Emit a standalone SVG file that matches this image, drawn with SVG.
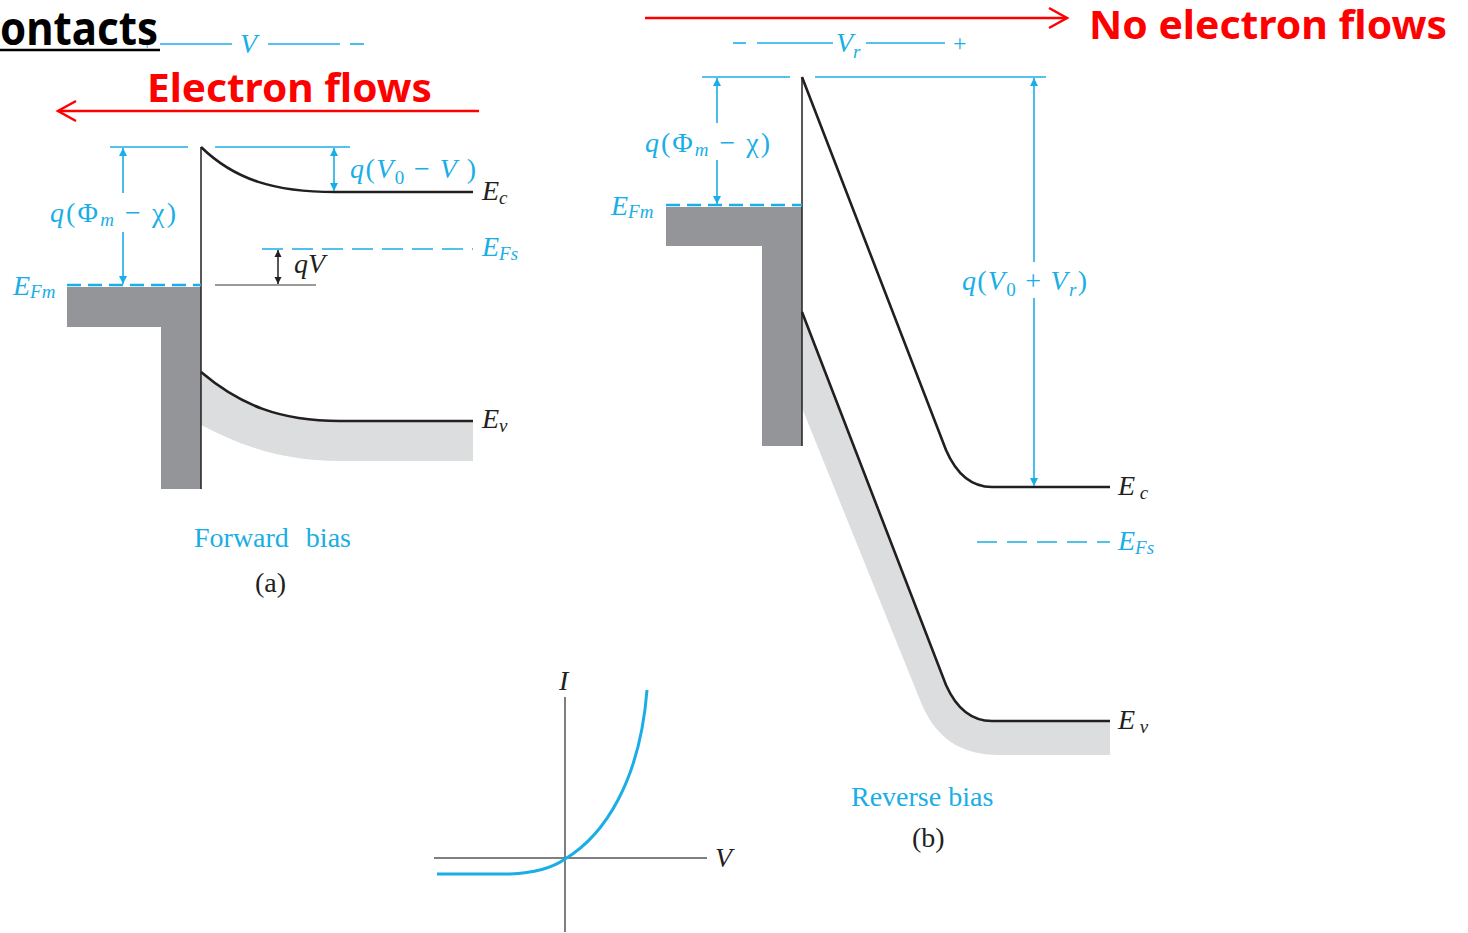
<svg xmlns="http://www.w3.org/2000/svg" width="1468" height="933" viewBox="0 0 1468 933">
<defs>
<marker id="ah" viewBox="0 0 10 10" refX="10" refY="5" markerWidth="8" markerHeight="10" markerUnits="userSpaceOnUse" orient="auto-start-reverse"><path d="M0,0 L10,5 L0,10 z" fill="#1aaee6"/></marker>
<marker id="ahk" viewBox="0 0 10 10" refX="10" refY="5" markerWidth="7" markerHeight="8" markerUnits="userSpaceOnUse" orient="auto-start-reverse"><path d="M0,0 L10,5 L0,10 z" fill="#231f20"/></marker>
<style>
.b{stroke:#1aaee6;stroke-width:1.6;fill:none}
.bd{stroke:#1aaee6;stroke-width:2.6;fill:none;stroke-dasharray:14 7}
.bds{stroke:#1aaee6;stroke-width:1.6;fill:none;stroke-dasharray:21 9}
.k{stroke:#231f20;stroke-width:2.6;fill:none}
.kt{stroke:#231f20;stroke-width:1.5;fill:none}
.metal{fill:#939598}
.band{fill:#dcddde}
.mt{font-family:"Liberation Serif",serif;font-style:italic;font-size:28px}
.up{font-style:normal}
.mb{fill:#1aaee6}
.mk{fill:#231f20}
.sub{font-size:19px}
.cap{font-family:"Liberation Serif",serif;font-size:28px}
.red{font-family:"Noto Sans",sans-serif;font-weight:bold;font-size:40px;fill:#ff0000}
</style>
</defs>

<g id="title">
<text x="142" y="50" class="mb" font-family="'Liberation Serif',serif" font-size="18">+</text>
<text x="0" y="45" font-family="'Noto Sans',sans-serif" font-weight="bold" font-size="46" fill="#000" textLength="158" lengthAdjust="spacingAndGlyphs">ontacts</text>
<line x1="0" y1="50" x2="160" y2="50" stroke="#000" stroke-width="2.5"/>
</g>

<g id="forward-voltage">
<line x1="160" y1="44" x2="232" y2="44" class="b"/>
<text x="240" y="53" class="mt mb">V</text>
<line x1="268" y1="44" x2="340" y2="44" class="b"/>
<line x1="350" y1="44" x2="364" y2="44" class="b"/>
</g>

<g id="electron-flows">
<text x="147" y="102" class="red" textLength="285" lengthAdjust="spacingAndGlyphs">Electron flows</text>
<line x1="58" y1="111" x2="479" y2="111" stroke="#ff0000" stroke-width="2.5"/>
<path d="M76,101 L58,111 L76,121" fill="none" stroke="#ff0000" stroke-width="2.5"/>
</g>

<g id="forward-diagram">
<path class="band" d="M201,372 C240,405 280,421 340,421 L473,421 L473,461 L340,461 C280,461 240,445 201,425 Z"/>
<path class="metal" d="M67,287 L201,287 L201,489 L161,489 L161,327 L67,327 Z"/>
<line x1="201" y1="147" x2="201" y2="489" class="kt"/>
<path class="k" d="M201,147 C235,180 275,192 335,192 L473,192"/>
<path class="k" d="M201,372 C240,405 280,421 340,421 L473,421"/>
<line x1="110" y1="147" x2="188" y2="147" class="b"/>
<line x1="215" y1="147" x2="350" y2="147" class="b"/>
<line x1="67" y1="285" x2="201" y2="285" class="bd"/>
<line x1="262" y1="249" x2="473" y2="249" class="bds"/>
<line x1="215" y1="285" x2="316" y2="285" stroke="#777" stroke-width="1.3"/>
<line x1="123" y1="193" x2="123" y2="148" class="b" marker-end="url(#ah)"/>
<line x1="123" y1="232" x2="123" y2="284" class="b" marker-end="url(#ah)"/>
<line x1="334" y1="148" x2="334" y2="191" class="b" marker-start="url(#ah)" marker-end="url(#ah)"/>
<line x1="278" y1="250" x2="278" y2="284" class="kt" marker-start="url(#ahk)" marker-end="url(#ahk)"/>
<text x="50" y="222" class="mt mb" textLength="126" lengthAdjust="spacing">q<tspan class="up">(Φ</tspan><tspan class="sub" dy="4">m</tspan><tspan class="up" dy="-4"> − χ)</tspan></text>
<text x="350" y="178" class="mt mb" textLength="126" lengthAdjust="spacing">q<tspan class="up">(</tspan>V<tspan class="sub up" dy="6">0</tspan><tspan class="up" dy="-6"> − </tspan>V<tspan class="up"> )</tspan></text>
<text x="294" y="273" class="mt mk">qV</text>
<text x="13" y="295" class="mt mb">E<tspan class="sub" dy="3">Fm</tspan></text>
<text x="482" y="200" class="mt mk">E<tspan class="sub" dy="4">c</tspan></text>
<text x="482" y="256" class="mt mb">E<tspan class="sub" dy="4">Fs</tspan></text>
<text x="482" y="428" class="mt mk">E<tspan class="sub" dy="4">v</tspan></text>
<text x="194" y="547" class="cap mb" word-spacing="10">Forward bias</text>
<text x="255" y="592" class="cap mk">(a)</text>
</g>

<g id="no-electron-flows">
<line x1="645" y1="18" x2="1067" y2="18" stroke="#ff0000" stroke-width="2.5"/>
<path d="M1049,8 L1067,18 L1049,28" fill="none" stroke="#ff0000" stroke-width="2.5"/>
<text x="1089" y="39" class="red" textLength="358" lengthAdjust="spacingAndGlyphs">No electron flows</text>
</g>

<g id="reverse-voltage">
<line x1="733" y1="43" x2="746" y2="43" class="b"/>
<line x1="757" y1="43" x2="833" y2="43" class="b"/>
<text x="836" y="52" class="mt mb">V<tspan class="sub" dy="6">r</tspan></text>
<line x1="866" y1="43" x2="945" y2="43" class="b"/>
<text x="953" y="51" class="mb" font-family="'Liberation Serif',serif" font-size="24">+</text>
</g>

<g id="reverse-diagram">
<path class="band" d="M802,312 L946,685 Q962,721 992,721 L1110,721 L1110,755 L1000,755 C960,755 935,738 920,700 L802,408 Z"/>
<path class="metal" d="M666,207 L802,207 L802,446 L762,446 L762,246 L666,246 Z"/>
<line x1="802" y1="77" x2="802" y2="446" class="kt"/>
<path class="k" d="M802,77 L946,450 Q962,487 992,487 L1110,487"/>
<path class="k" d="M802,312 L946,685 Q962,721 992,721 L1110,721"/>
<line x1="702" y1="77" x2="790" y2="77" class="b"/>
<line x1="815" y1="77" x2="1046" y2="77" class="b"/>
<line x1="666" y1="205" x2="802" y2="205" class="bd"/>
<line x1="977" y1="542" x2="1110" y2="542" class="bds" style="stroke-dasharray:20 10"/>
<line x1="717" y1="123" x2="717" y2="78" class="b" marker-end="url(#ah)"/>
<line x1="717" y1="160" x2="717" y2="204" class="b" marker-end="url(#ah)"/>
<line x1="1034" y1="262" x2="1034" y2="78" class="b" marker-end="url(#ah)"/>
<line x1="1034" y1="298" x2="1034" y2="486" class="b" marker-end="url(#ah)"/>
<text x="645" y="152" class="mt mb" textLength="125" lengthAdjust="spacing">q<tspan class="up">(Φ</tspan><tspan class="sub" dy="4">m</tspan><tspan class="up" dy="-4"> − χ)</tspan></text>
<text x="962" y="290" class="mt mb" textLength="125" lengthAdjust="spacing">q<tspan class="up">(</tspan>V<tspan class="sub up" dy="6">0</tspan><tspan class="up" dy="-6"> + </tspan>V<tspan class="sub" dy="6">r</tspan><tspan class="up" dy="-6">)</tspan></text>
<text x="611" y="215" class="mt mb">E<tspan class="sub" dy="3">Fm</tspan></text>
<text x="1118" y="495" class="mt mk">E<tspan class="sub" dy="4"> c</tspan></text>
<text x="1118" y="550" class="mt mb">E<tspan class="sub" dy="4">Fs</tspan></text>
<text x="1118" y="729" class="mt mk">E<tspan class="sub" dy="4"> v</tspan></text>
<text x="851" y="806" class="cap mb">Reverse bias</text>
<text x="912" y="847" class="cap mk">(b)</text>
</g>

<g id="iv-plot">
<line x1="434" y1="858" x2="707" y2="858" stroke="#555" stroke-width="1.5"/>
<line x1="565" y1="697" x2="565" y2="932" stroke="#555" stroke-width="1.5"/>
<path d="M437,874 L510,874 C540,873 555,866 565,859 C605,835 640,780 647,690" fill="none" stroke="#1aaee6" stroke-width="3"/>
<text x="559" y="690" class="mt mk">I</text>
<text x="715" y="867" class="mt mk">V</text>
</g>
</svg>
